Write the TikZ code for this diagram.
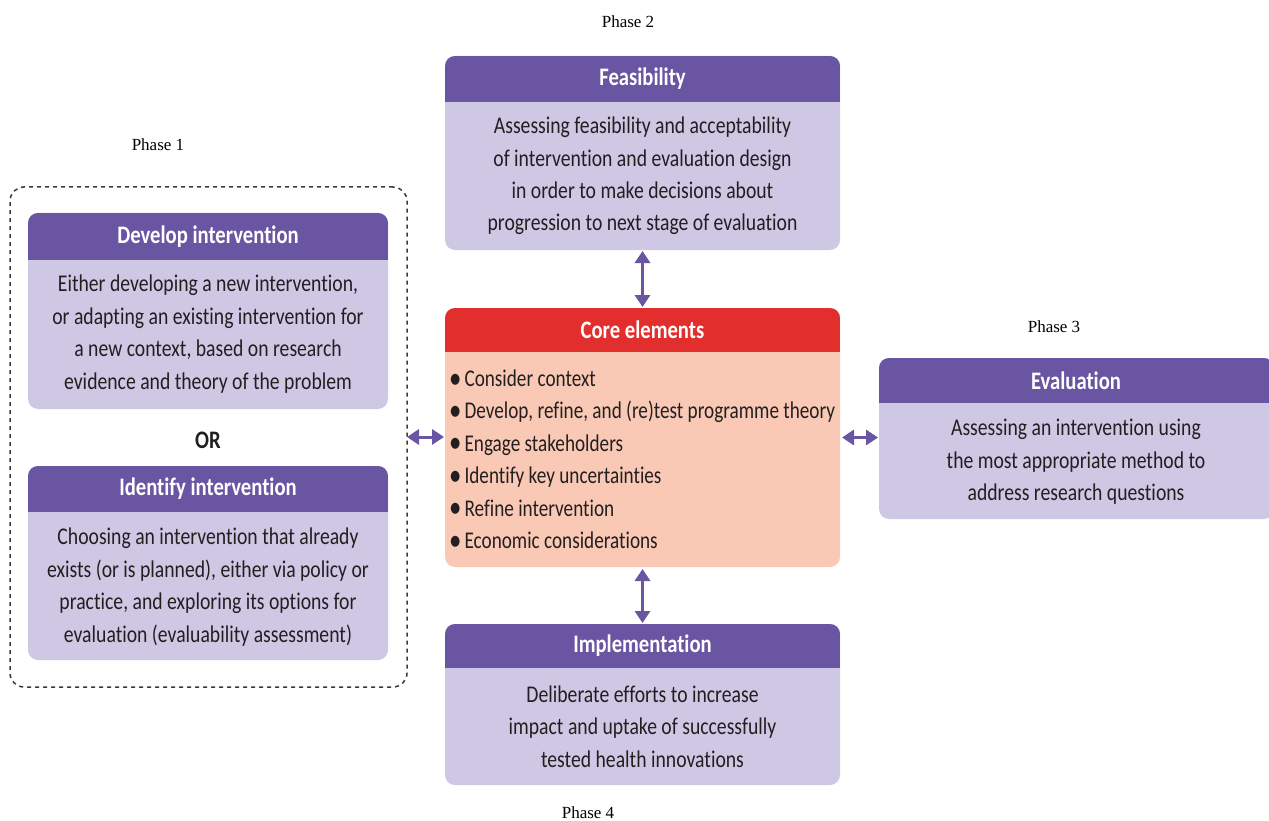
\documentclass[tikz,border=0pt]{standalone}
\usepackage{fontspec}
\setmainfont[FakeStretch=0.82,Ligatures=NoCommon]{Carlito}
\newfontfamily\corefont[FakeStretch=0.80,Ligatures=NoCommon]{Carlito}
\newfontfamily\phasefont{Liberation Serif}
\usetikzlibrary{arrows.meta}
\definecolor{hdrpurple}{HTML}{6A55A3}
\definecolor{bodylav}{HTML}{CFC8E5}
\definecolor{corered}{HTML}{E22E2C}
\definecolor{corebody}{HTML}{F9C9B5}
\definecolor{txtgray}{HTML}{231F20}
\definecolor{dashgray}{HTML}{3A3A3A}
\newcommand\mybul{\raisebox{-1.5pt}{\fontsize{31}{31}\selectfont\textbullet}\hspace{3pt}}
\begin{document}
\begin{tikzpicture}[x=1pt,y=-1pt,
  panel/.style={draw=none, fill=bodylav, rounded corners=10pt, minimum width=395pt, anchor=north west, inner sep=0pt, outer sep=0pt},
  hdrtext/.style={font=\fontsize{25.2}{28}\selectfont\bfseries, text=white, inner sep=0pt},
  bodytext/.style={font=\fontsize{24}{32.4}\selectfont, align=center, text=txtgray, inner sep=0pt},
  phase/.style={font=\phasefont\fontsize{17}{20}\selectfont, text=black, inner sep=0pt},
  biarrow/.style={draw=hdrpurple, line width=3pt, {Triangle[length=12pt,width=15pt]}-{Triangle[length=12pt,width=15pt]}},
  dashbox/.style={draw=dashgray, line width=1.5pt, dash pattern=on 4pt off 4pt, rounded corners=14pt, minimum width=397pt, minimum height=500pt, anchor=north west, inner sep=0pt, outer sep=0pt}
]
\useasboundingbox (0,0) rectangle (1269,821);
\fill[white] (0,0) rectangle (1269,821);

% Phase labels
\node[phase] (ph2) at (628,22) {Phase 2};
\node[phase] (ph1) at (158,145) {Phase 1};
\node[phase] (ph3) at (1054,327) {Phase 3};
\node[phase] (ph4) at (588,813) {Phase 4};

% Dashed group
\node[dashbox] (dash) at (10,187) {};

% Feasibility
\node[panel, minimum height=194pt] (feas) at (445,56) {};
\begin{scope}
  \clip[rounded corners=10pt] (feas.north west) rectangle (feas.south east);
  \fill[hdrpurple] (feas.north west) rectangle ([yshift=-46pt]feas.north east);
\end{scope}
\node[hdrtext] (feash) at ([yshift=-23pt]feas.north) {Feasibility};
\node[bodytext] (feast) at (642.5,176) {Assessing feasibility and acceptability\\of intervention and evaluation design\\in order to make decisions about\\progression to next stage of evaluation};

% Core elements
\node[panel, fill=corebody, minimum height=259pt] (core) at (445,308) {};
\begin{scope}
  \clip[rounded corners=10pt] (core.north west) rectangle (core.south east);
  \fill[corered] (core.north west) rectangle ([yshift=-44pt]core.north east);
\end{scope}
\node[hdrtext] (coreh) at ([yshift=-22pt]core.north) {Core elements};
\node[bodytext, font=\corefont\fontsize{24}{32.4}\selectfont, align=left, anchor=west] (coret) at (449,460) {\mybul Consider context\\\mybul Develop, refine, and (re)test programme theory\\\mybul Engage stakeholders\\\mybul Identify key uncertainties\\\mybul Refine intervention\\\mybul Economic considerations};

% Implementation
\node[panel, minimum height=161pt] (impl) at (445,624) {};
\begin{scope}
  \clip[rounded corners=10pt] (impl.north west) rectangle (impl.south east);
  \fill[hdrpurple] (impl.north west) rectangle ([yshift=-44pt]impl.north east);
\end{scope}
\node[hdrtext] (implh) at ([yshift=-22pt]impl.north) {Implementation};
\node[bodytext] (implt) at (642.5,726.5) {Deliberate efforts to increase\\impact and uptake of successfully\\tested health innovations};

% Evaluation
\node[panel, minimum height=161pt] (eval) at (879,358) {};
\begin{scope}
  \clip[rounded corners=10pt] (eval.north west) rectangle (eval.south east);
  \fill[hdrpurple] (eval.north west) rectangle ([yshift=-45pt]eval.north east);
\end{scope}
\node[hdrtext] (evalh) at (1076,381) {Evaluation};
\node[bodytext] (evalt) at (1076,462) {Assessing an intervention using\\the most appropriate method to\\address research questions};

% Develop intervention
\node[panel, minimum width=360pt, minimum height=196pt] (dev) at (28,213) {};
\begin{scope}
  \clip[rounded corners=10pt] (dev.north west) rectangle (dev.south east);
  \fill[hdrpurple] (dev.north west) rectangle ([yshift=-47pt]dev.north east);
\end{scope}
\node[hdrtext] (devh) at ([yshift=-23.5pt]dev.north) {Develop intervention};
\node[bodytext] (devt) at (208,334) {Either developing a new intervention,\\or adapting an existing intervention for\\a new context, based on research\\evidence and theory of the problem};

% OR
\node[hdrtext, text=txtgray] (orlbl) at (208,440) {OR};

% Identify intervention
\node[panel, minimum width=360pt, minimum height=194pt] (ident) at (28,466) {};
\begin{scope}
  \clip[rounded corners=10pt] (ident.north west) rectangle (ident.south east);
  \fill[hdrpurple] (ident.north west) rectangle ([yshift=-46pt]ident.north east);
\end{scope}
\node[hdrtext] (identh) at ([yshift=-23pt]ident.north) {Identify intervention};
\node[bodytext] (identt) at (208,587) {Choosing an intervention that already\\exists (or is planned), either via policy or\\practice, and exploring its options for\\evaluation (evaluability assessment)};

% Arrows
\draw[biarrow, shorten <=1pt, shorten >=1pt] (feas.south) -- (core.north);
\draw[biarrow, shorten <=2pt, shorten >=1pt] (core.south) -- (impl.north);
\draw[biarrow, shorten <=0pt, shorten >=1pt] (dash.east) -- (dash.east -| core.west);
\draw[biarrow, shorten <=2pt, shorten >=1pt] (core.east) -- (core.east -| eval.west);
\end{tikzpicture}
\end{document}
